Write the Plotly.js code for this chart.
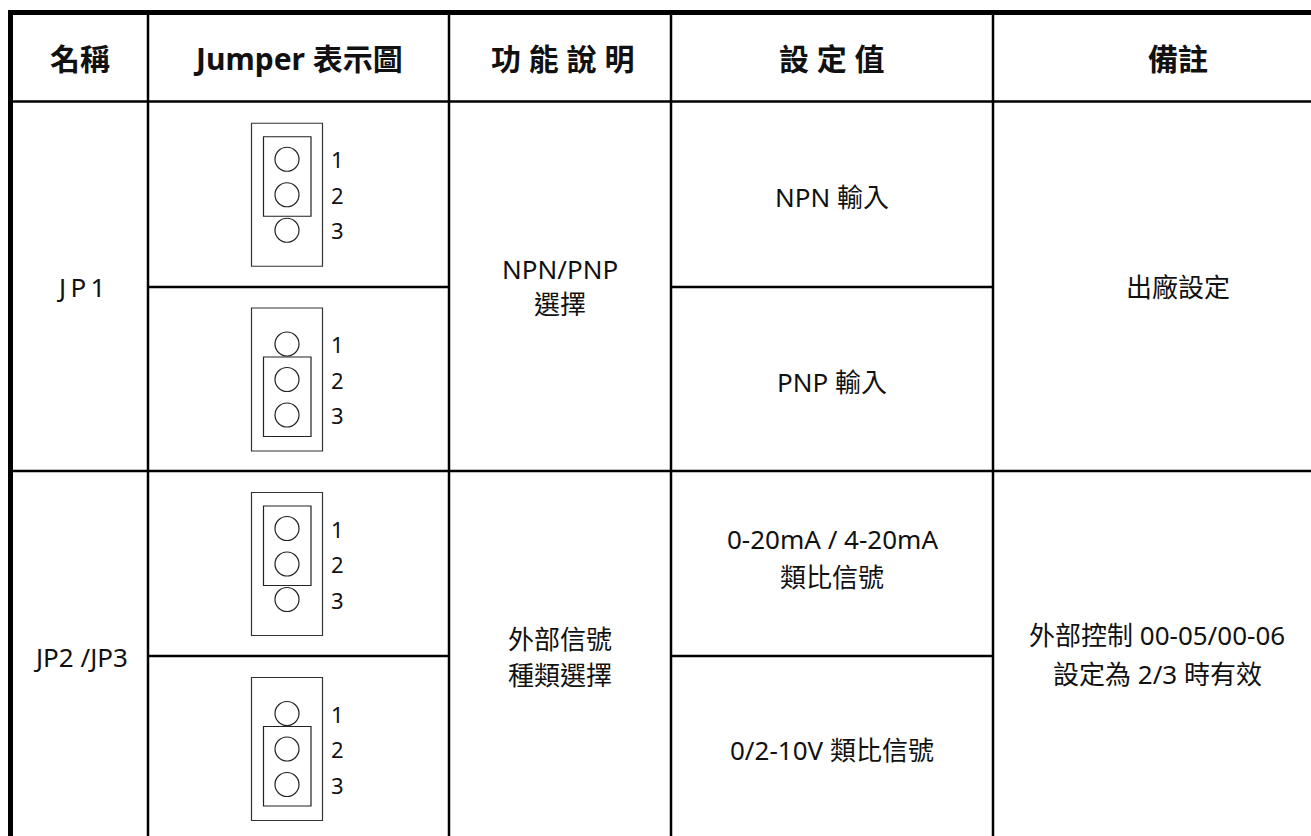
<!DOCTYPE html>
<html>
<head>
<meta charset="utf-8">
<script src="https://cdn.plot.ly/plotly-3.0.1.min.js"></script>
<style>html,body{margin:0;padding:0;background:#fff;}#chart{width:1311px;height:836px;}</style>
</head>
<body>
<div id="chart"></div>
<script>
// ---- table content ----
const headers = ["名稱", "Jumper 表示圖", "功 能 說 明", "設 定 值", "備註"];
const names = ["J\u2009P\u20091", "JP2 /JP3"];
const functions = [["NPN/PNP", "選擇"], ["外部信號", "種類選擇"]];
const settings = [["NPN 輸入"], ["PNP 輸入"], ["0-20mA / 4-20mA", "類比信號"], ["0/2-10V 類比信號"]];
const remarks = [["出廠設定"], ["外部控制 00-05/00-06", "設定為 2/3 時有效"]];
const pinLabels = ["1", "2", "3"];
const jumperShort = [[1, 2], [2, 3], [1, 2], [2, 3]];

// ---- layout geometry (not data) ----
const W = 1311, H = 836;
const colX = [10.5, 148, 449, 671, 993, 1365];      // column borders
const headerY = [12.5, 101.5];
const subRowY = [101.5, 287, 471, 656, 841];        // sub-row borders
const nameCX = 80, jumpCX = 287, funcCX = 560, setCX = 832;
const remarkCX = [1178, 1157];
const FONT = "Noto Sans, Noto Sans CJK TC, sans-serif";
const BODY = 26, HEAD = 30, PIN = 22;
const lineCol = "#000";

const shapes = [];
const ann = [];
function line(x0, y0, x1, y1, w, c) {
  shapes.push({type: "line", xref: "x", yref: "y", x0, y0, x1, y1, line: {color: c || lineCol, width: w}});
}
function rect(x0, y0, x1, y1, w, c) {
  shapes.push({type: "rect", xref: "x", yref: "y", x0, y0, x1, y1, line: {color: c, width: w}, fillcolor: "rgba(0,0,0,0)"});
}
function circ(cx, cy, r, w, c) {
  shapes.push({type: "circle", xref: "x", yref: "y", x0: cx - r, y0: cy - r, x1: cx + r, y1: cy + r, line: {color: c, width: w}, fillcolor: "rgba(0,0,0,0)"});
}
function txt(x, y, t, size, bold) {
  ann.push({xref: "x", yref: "y", x, y, text: bold ? "<b>" + t + "</b>" : t, showarrow: false,
    xanchor: "center", yanchor: "middle", font: {family: FONT, size, color: "#111"}});
}

// outer border
line(8, headerY[0], W + 10, headerY[0], 5);
line(colX[0], 10, colX[0], H + 10, 5);
// header bottom & column lines
line(colX[0], headerY[1], W + 10, headerY[1], 2.5);
for (let i = 1; i < 5; i++) line(colX[i], headerY[0], colX[i], H + 10, 2.5);
// group separator (full width)
line(colX[0], subRowY[2], W + 10, subRowY[2], 2.5);
// sub-row separators in jumper & setting columns
[subRowY[1], subRowY[3]].forEach(y => {
  line(colX[1], y, colX[2], y, 2.5);
  line(colX[3], y, colX[4], y, 2.5);
});

// header texts
const headCX = [80, 298, 562, setCX, 1178];
headers.forEach((h, i) => txt(headCX[i], 58, h, HEAD, true));

// name column
names.forEach((n, g) => txt(nameCX, (subRowY[2 * g] + subRowY[2 * g + 2]) / 2 + 1, n, BODY));
// function column
const funcY = [[269, 304], [639, 675]];
functions.forEach((f, g) => f.forEach((t, k) => txt(funcCX, funcY[g][k], t, BODY)));
// setting column
const setY = [[197], [382], [539, 577], [750]];
settings.forEach((s, r) => s.forEach((t, k) => txt(setCX, setY[r][k], t, BODY)));
// remark column
const remY = [[287], [635, 674]];
remarks.forEach((rm, g) => rm.forEach((t, k) => txt(remarkCX[g], remY[g][k], t, BODY)));

// jumper diagrams
jumperShort.forEach((sh, r) => {
  const cy = (subRowY[r] + subRowY[r + 1]) / 2 + 0.5;
  const pitch = 35.5;
  const pinY = [cy - pitch, cy, cy + pitch];
  rect(251.5, cy - 71.5, 322.5, cy + 71.5, 1.2, "#333");
  rect(263.5, pinY[sh[0] - 1] - 22.5, 311, pinY[sh[1] - 1] + 21.5, 1.2, "#222");
  pinY.forEach((py, k) => {
    circ(jumpCX, py, 12, 1.2, "#222");
    txt(337, py, pinLabels[k], PIN);
  });
});

const layout = {
  width: W, height: H,
  margin: {l: 0, r: 0, t: 0, b: 0},
  paper_bgcolor: "#fff", plot_bgcolor: "#fff",
  xaxis: {range: [0, W], visible: false, fixedrange: true},
  yaxis: {range: [H, 0], visible: false, fixedrange: true},
  shapes: shapes, annotations: ann, showlegend: false
};
Plotly.newPlot("chart", [{x: [], y: [], type: "scatter"}], layout, {displayModeBar: false, staticPlot: true});
</script>
</body>
</html>
